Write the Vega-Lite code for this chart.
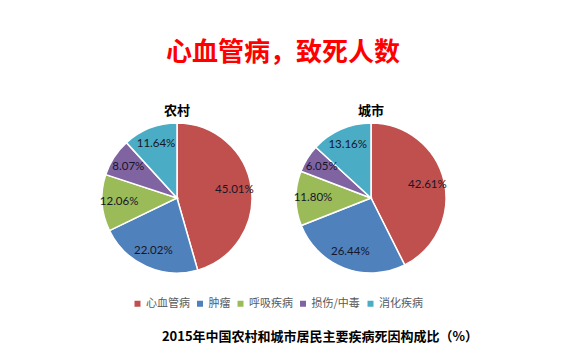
{
  "$schema": "https://vega.github.io/schema/vega-lite/v6.json",
  "background": "white",
  "padding": {"left": 80, "top": 40, "right": 0, "bottom": 0},
  "title": {"text": "心血管病，致死人数", "color": "#FF0000", "font": "Noto Sans CJK SC", "fontSize": 26, "fontWeight": "bold", "anchor": "start", "dx": 86, "offset": 39},
  "spacing": 49,
  "vconcat": [
    {
      "data": {"values": [
        {"area": "农村", "cause": "心血管病", "rank": 1, "share": 0.4501},
        {"area": "农村", "cause": "肿瘤", "rank": 2, "share": 0.2202},
        {"area": "农村", "cause": "呼吸疾病", "rank": 3, "share": 0.1206},
        {"area": "农村", "cause": "损伤/中毒", "rank": 4, "share": 0.0807},
        {"area": "农村", "cause": "消化疾病", "rank": 5, "share": 0.1164},
        {"area": "城市", "cause": "心血管病", "rank": 1, "share": 0.4261},
        {"area": "城市", "cause": "肿瘤", "rank": 2, "share": 0.2644},
        {"area": "城市", "cause": "呼吸疾病", "rank": 3, "share": 0.1180},
        {"area": "城市", "cause": "损伤/中毒", "rank": 4, "share": 0.0605},
        {"area": "城市", "cause": "消化疾病", "rank": 5, "share": 0.1316}
      ]},
      "facet": {"column": {"field": "area", "type": "nominal", "sort": ["农村", "城市"], "title": null,
        "header": {"labelFont": "Noto Sans CJK SC", "labelFontSize": 13, "labelFontWeight": "bold", "labelColor": "#000000", "labelPadding": 0}}},
      "spacing": 0,
      "spec": {
        "width": 194,
        "height": 160,
        "view": {"stroke": null},
        "layer": [
          {
            "mark": {"type": "arc", "outerRadius": 75, "stroke": "white", "strokeWidth": 1.5},
            "encoding": {
              "theta": {"field": "share", "type": "quantitative", "stack": "normalize"},
              "order": {"field": "rank", "type": "quantitative"},
              "color": {"field": "cause", "type": "nominal",
                "scale": {"domain": ["心血管病", "肿瘤", "呼吸疾病", "损伤/中毒", "消化疾病"], "range": ["#C0504D", "#4F81BD", "#9BBB59", "#8064A2", "#4BACC6"]},
                "legend": {"orient": "none", "legendX": 52, "legendY": 180, "direction": "horizontal", "title": null,
                  "symbolType": "square", "symbolSize": 36, "symbolStrokeWidth": 0, "labelFont": "Noto Sans CJK SC", "labelFontSize": 11, "labelColor": "#595959", "labelOffset": 3, "columnPadding": 4.5}}
            }
          },
          {
            "mark": {"type": "text", "radius": 58, "font": "Lato", "fontSize": 11.5, "fill": "#161628"},
            "encoding": {
              "theta": {"field": "share", "type": "quantitative", "stack": "normalize"},
              "order": {"field": "rank", "type": "quantitative"},
              "detail": {"field": "cause", "type": "nominal"},
              "text": {"field": "share", "type": "quantitative", "format": ".2%"}
            }
          }
        ]
      }
    },
    {
      "data": {"values": [{"caption": "2015年中国农村和城市居民主要疾病死因构成比（%）"}]},
      "width": 480,
      "height": 20,
      "view": {"stroke": null},
      "mark": {"type": "text", "font": "Noto Sans CJK SC", "fontSize": 13, "fontWeight": "bold", "color": "#000000"},
      "encoding": {"text": {"field": "caption", "type": "nominal"}}
    }
  ]
}
